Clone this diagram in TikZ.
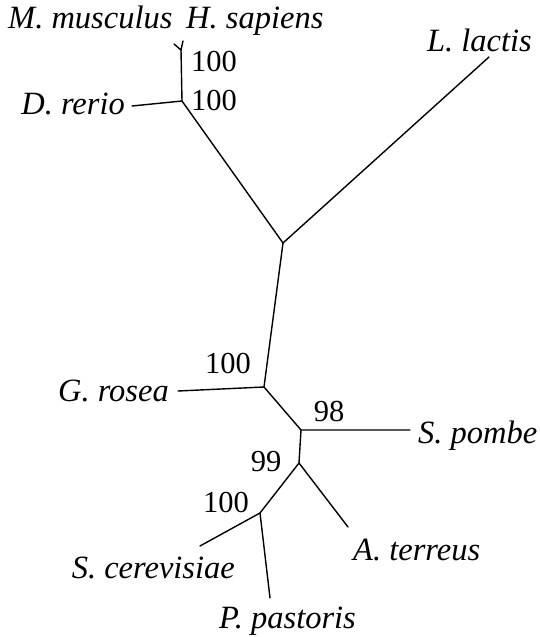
\documentclass[tikz,border=0pt]{standalone}
\usepackage{fontspec}
\setmainfont{Liberation Serif}
\usetikzlibrary{positioning}
\tikzset{
  branch/.style={line width=1.4pt, line cap=round},
  taxon/.style={font=\fontsize{32.5}{36}\selectfont\itshape, inner sep=0pt},
  boot/.style={font=\fontsize{30.5}{34}\selectfont, inner sep=0pt}
}

\begin{document}
\begin{tikzpicture}[x=1pt, y=-1pt]
  \useasboundingbox (0,0) rectangle (540,637);
  % inner junctions
  \coordinate (jmh)  at (181,50);
  \coordinate (jdr)  at (182,101);
  \coordinate (jmid) at (283,243);
  \coordinate (jgr)  at (264,387);
  \coordinate (jsp)  at (301,430);
  \coordinate (jat)  at (299,463);
  \coordinate (jsc)  at (260,513);
  % tips
  \coordinate (tmm) at (174,44);
  \coordinate (ths) at (183,41);
  \coordinate (tdr) at (132,106);
  \coordinate (tll) at (489,57);
  \coordinate (tgr) at (178,391);
  \coordinate (tsp) at (410,430);
  \coordinate (tat) at (348,527);
  \coordinate (tsc) at (200,546);
  \coordinate (tpp) at (270,598);

  % branches
  \draw[branch] (tmm) -- (jmh) -- (ths);
  \draw[branch] (jmh) -- (jdr) -- (tdr);
  \draw[branch] (jdr) -- (jmid) -- (tll);
  \draw[branch] (jmid) -- (jgr) -- (tgr);
  \draw[branch] (jgr) -- (jsp) -- (tsp);
  \draw[branch] (jsp) -- (jat) -- (tat);
  \draw[branch] (jat) -- (jsc) -- (tsc);
  \draw[branch] (jsc) -- (tpp);

  % taxa
  \node[taxon, anchor=base west] (mm) at (8,28)  {M. musculus};
  \node[taxon, anchor=base west] (hs) at (186,28) {H. sapiens};
  \node[taxon, anchor=base east] (dr) at (125,114) {D. rerio};
  \node[taxon, anchor=base east] (ll) at (532,51) {L. lactis};
  \node[taxon, anchor=base east] (gr) at (169,401) {G. rosea};
  \node[taxon, anchor=base west] (sp) at (418,443) {S. pombe};
  \node[taxon, anchor=base west] (at) at (353,560) {A. terreus};
  \node[taxon, anchor=base east] (sc) at (235,578) {S. cerevisiae};
  \node[taxon, anchor=base west] (pp) at (219,628) {P. pastoris};

  % bootstrap values
  \node[boot] (b1) at (214,62)  {100};
  \node[boot] (b2) at (214,101) {100};
  \node[boot] (b3) at (228,364) {100};
  \node[boot] (b4) at (329,412) {98};
  \node[boot] (b5) at (266,462) {99};
  \node[boot] (b6) at (226,503) {100};
\end{tikzpicture}
\end{document}
